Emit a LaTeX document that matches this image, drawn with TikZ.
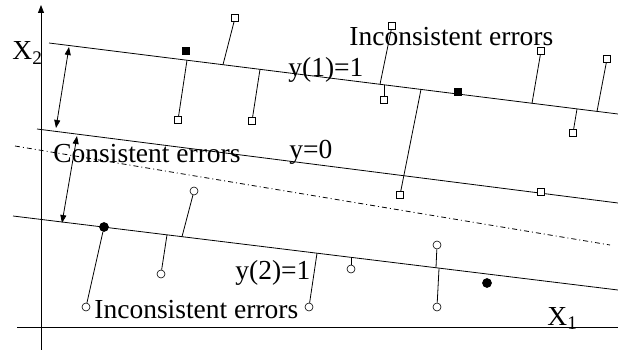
\documentclass[tikz,border=0pt]{standalone}
\usepackage{fontspec}
\setmainfont{Liberation Serif}
\usetikzlibrary{arrows.meta}

\begin{document}
\begin{tikzpicture}[x=1pt, y=-1pt, line width=0.8pt,
  every node/.style={font=\fontsize{27.5}{30}\selectfont, inner sep=0pt},
  lbl/.style={anchor=base west},
  osq/.style={draw, rectangle, fill=white, minimum size=7.5pt, line width=0.6pt},
  fsq/.style={osq, fill=black},
  ocirc/.style={draw, circle, fill=white, minimum size=8pt, line width=0.6pt},
  fcirc/.style={ocirc, fill=black, minimum size=9pt},
  axisarrow/.style={-{Triangle[length=8pt,width=6pt]}},
  dblarrow/.style={{Triangle[length=8pt,width=6pt]}-{Triangle[length=8pt,width=6pt]}},
  dashdotline/.style={dash pattern=on 5pt off 3pt on 1pt off 3pt}]
\useasboundingbox (0,0) rectangle (618,350);

% axes and class lines
\coordinate (ybot) at (41,350);  \coordinate (ytop) at (41,5);
\coordinate (xl) at (17,327);    \coordinate (xr) at (618,327);
\coordinate (T1) at (49,43);     \coordinate (T2) at (618,114);
\coordinate (M1) at (37,129);    \coordinate (M2) at (618,203);
\coordinate (D1) at (15,146);    \coordinate (D2) at (610,245);
\coordinate (B1) at (13,216);    \coordinate (B2) at (618,290);
\draw[axisarrow] (ybot) -- (ytop);
\draw (xl) -- (xr);
\draw (T1) -- (T2);
\draw (M1) -- (M2);
\draw[dashdotline] (D1) -- (D2);
\draw (B1) -- (B2);

% margins
\coordinate (a1) at (69,47);  \coordinate (a2) at (56,128);
\coordinate (a3) at (77,136); \coordinate (a4) at (62,223);
\draw[dblarrow] (a1) -- (a2);
\draw[dblarrow] (a3) -- (a4);

% labels
\node[lbl] (X2) at (12,60) {X\textsubscript{2}};
\node[lbl] (X1) at (547,325) {X\textsubscript{1}};
\node[lbl] (ie1) at (349,46) {Inconsistent errors};
\node[lbl] (ie2) at (94,318) {Inconsistent errors};
\node[lbl] (ce) at (53,162) {Consistent errors};
\node[lbl] (y1) at (288,77) {y(1)=1};
\node[lbl] (y0) at (289,158) {y=0};
\node[lbl] (y2) at (235,279) {y(2)=1};

% class 1 points
\node[osq] (q1) at (235,18) {};
\node[osq] (q2) at (178,120) {};
\node[osq] (q3) at (252,121) {};
\node[osq] (q4) at (392,26) {};
\node[osq] (q5) at (384,100) {};
\node[osq] (q6) at (400,195) {};
\node[osq] (q7) at (541,51) {};
\node[osq] (q8) at (607,59) {};
\node[osq] (q9) at (573,133) {};
\node[osq] (q10) at (541,192) {};
\node[fsq] (f1) at (186,51) {};
\node[fsq] (f2) at (458,92) {};
\coordinate (t1) at (223,64.7); \coordinate (t2) at (187,60.2);
\coordinate (t3) at (260,69.3); \coordinate (t4) at (380,84.3);
\coordinate (t5) at (384,84.8); \coordinate (t6) at (421,89.4);
\coordinate (t7) at (532,103.3); \coordinate (t8) at (597,111.4);
\coordinate (t9) at (577,108.9);
\foreach \i in {1,...,9} \draw (q\i) -- (t\i);

% class 2 points
\node[ocirc] (c1) at (194,191) {};
\node[ocirc] (c2) at (161,274) {};
\node[ocirc] (c3) at (86,307) {};
\node[ocirc] (c4) at (309,307) {};
\node[ocirc] (c5) at (351,269) {};
\node[ocirc] (c6) at (437,245) {};
\node[ocirc] (c7) at (437,307) {};
\node[fcirc] (F1) at (104,227) {};
\node[fcirc] (F2) at (487,283) {};
\coordinate (b1) at (182,236.7); \coordinate (b2) at (167,234.8);
\coordinate (b4) at (317,253.2); \coordinate (b5) at (351,257.3);
\coordinate (b6) at (436,267.7); \coordinate (b7) at (439,268.5);
\foreach \i in {1,2,4,5,6,7} \draw (c\i) -- (b\i);
\draw (c3) -- (F1);
\end{tikzpicture}
\end{document}
